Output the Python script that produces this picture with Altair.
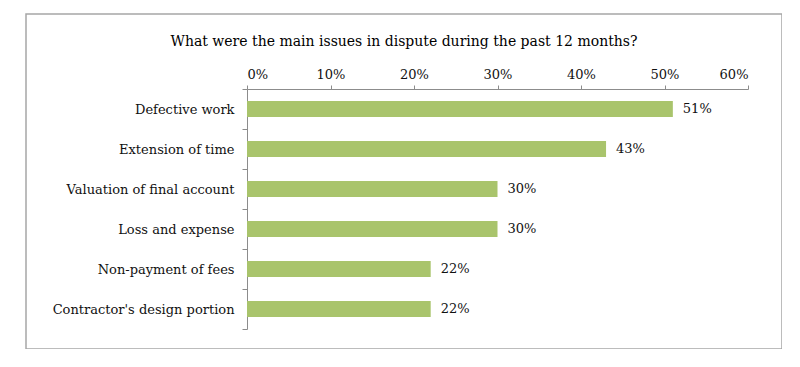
import altair as alt
import pandas as pd

categories = ["Defective work", "Extension of time", "Valuation of final account",
              "Loss and expense", "Non-payment of fees", "Contractor's design portion"]
values = [0.51, 0.43, 0.30, 0.30, 0.22, 0.22]
labels = ["51%", "43%", "30%", "30%", "22%", "22%"]
x_ticks = [0, 0.1, 0.2, 0.3, 0.4, 0.5, 0.6]

df = pd.DataFrame({"issue": categories, "share": values, "label": labels})

FONT = "DejaVu Serif"
FS = 13

x = alt.X("share:Q",
          scale=alt.Scale(domain=[0, 0.6], range=[221, 722], nice=False, zero=True),
          axis=alt.Axis(orient="top", values=x_ticks, format=".0%", title=None, grid=False,
                        offset=-75, tickSize=4, labelPadding=4, domainColor="#8c8c8c",
                        tickColor="#8c8c8c", labelFont=FONT, labelFontSize=FS,
                        labelColor="#111111"))
y = alt.Y("issue:N", sort=categories,
          scale=alt.Scale(range=[75, 315], paddingInner=0, paddingOuter=0),
          axis=alt.Axis(orient="left", title=None, offset=-221, tickBand="extent",
                        tickSize=5, labelPadding=8, labelLimit=400, domainColor="#8c8c8c",
                        tickColor="#8c8c8c", labelFont=FONT, labelFontSize=FS,
                        labelColor="#111111"))

bars = alt.Chart(df).mark_bar(color="#a9c46c", height={"band": 0.4}).encode(x=x, y=y)
text = alt.Chart(df).mark_text(align="left", dx=10, font=FONT, fontSize=FS,
                               color="#111111").encode(x=x, y=y, text="label:N")

chart = (bars + text).properties(
    width=756, height=335,
    title=alt.TitleParams("What were the main issues in dispute during the past 12 months?",
                          font=FONT, fontSize=14, fontWeight="normal", color="#000000",
                          anchor="middle", frame="group", offset=-41),
    padding={"left": 18, "top": 6, "right": 0, "bottom": 0},
    autosize=alt.AutoSizeParams(type="none"),
).configure_view(stroke="#a6a6a6", strokeWidth=1.5)

chart.save("out.html", embed_options={"renderer": "svg", "actions": False})
